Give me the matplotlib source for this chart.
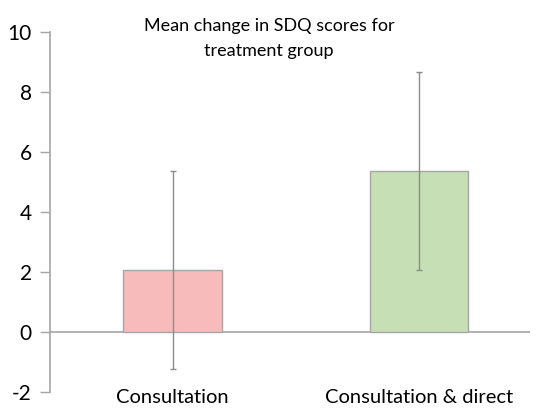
import matplotlib
matplotlib.use('Agg')
import matplotlib.pyplot as plt

plt.rcParams['font.family'] = ['Lato', 'DejaVu Sans']
plt.rcParams['axes.unicode_minus'] = False

groups = ["Consultation", "Consultation & direct"]
means = [2.07, 5.36]
errors = [3.3, 3.3]
colors = ["#F8BBBB", "#C6DFB4"]
yticks = [-2, 0, 2, 4, 6, 8, 10]
title_lines = ["Mean change in SDQ scores for", "treatment group"]

fig = plt.figure(figsize=(5.38, 4.08), dpi=100)
ax = fig.add_axes([50/538, 16/408, 480/538, 360/408])

xs = list(range(len(groups)))
ax.bar(xs, means, width=0.4, color=colors, edgecolor="#A6A6A6", linewidth=1, zorder=2)
ax.errorbar(xs, means, yerr=errors, fmt="none", ecolor="#8C8C8C", elinewidth=1,
            capsize=2, capthick=1, zorder=3)
ax.axhline(0, color="#A6A6A6", linewidth=1.2, zorder=1)

ax.set_ylim(-2, 10)
ax.set_xlim(-0.497, 1.45)
ax.set_yticks(yticks)
ax.set_xticks(xs)
ax.set_xticklabels(groups, fontsize=14.5)
ax.tick_params(axis='x', length=0, pad=-2.5)
ax.tick_params(axis='y', length=7, width=1, color="#A6A6A6", labelsize=15, pad=6)

for s in ['top', 'right', 'bottom']:
    ax.spines[s].set_visible(False)
ax.spines['left'].set_color("#A6A6A6")
ax.spines['left'].set_linewidth(1.2)

# title as two lines, placed by baseline
for line, base in zip(title_lines, [31, 56]):
    fig.text(269/538, 1 - base/408, line, ha='center', va='baseline', fontsize=13)

fig.savefig("out.png", dpi=100)
